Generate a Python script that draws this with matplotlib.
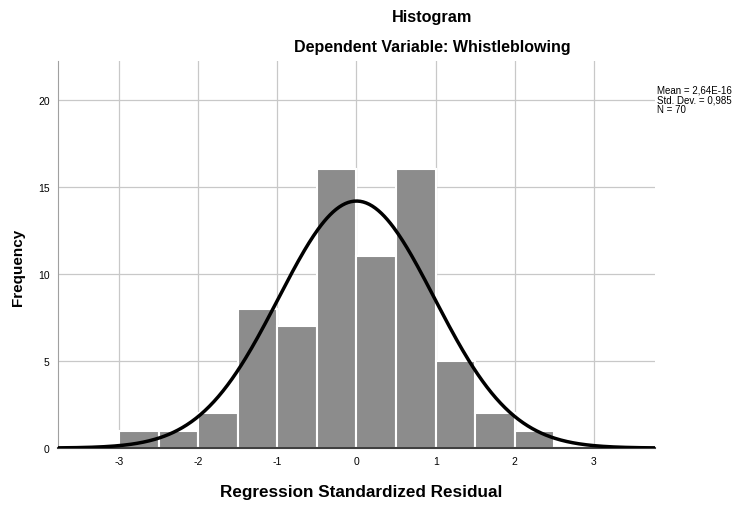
import matplotlib
matplotlib.use('Agg')
import matplotlib.pyplot as plt
import numpy as np

plt.rcParams['font.family'] = ['Liberation Sans', 'DejaVu Sans']
plt.rcParams['axes.unicode_minus'] = False

# histogram bins (left edges) and counts
bin_edges = [-3.0, -2.5, -2.0, -1.5, -1.0, -0.5, 0.0, 0.5, 1.0, 1.5, 2.0, 2.5]
counts = [1, 1, 2, 8, 7, 16, 11, 16, 5, 2, 1]
mean_val = 2.64e-16
std_val = 0.985
n_obs = 70
x_ticks = [-3, -2, -1, 0, 1, 2, 3]
y_ticks = [0, 5, 10, 15, 20]

fig = plt.figure(figsize=(7.52, 5.06), dpi=100)
ax = fig.add_axes([0.0771, 0.1126, 0.7939, 0.7644])

widths = np.diff(bin_edges)
ax.bar(bin_edges[:-1], counts, width=widths, align='edge',
       color='#8c8c8c', edgecolor='white', linewidth=1.5, zorder=2)

# normal curve scaled to the histogram
xs = np.linspace(-3.8, 3.8, 400)
bw = 0.5
ys = n_obs * bw / (std_val * np.sqrt(2 * np.pi)) * np.exp(-0.5 * ((xs - mean_val) / std_val) ** 2)
ax.plot(xs, ys, color='black', linewidth=2.5, zorder=3)

ax.set_xlim(-3.77, 3.77)
ax.set_ylim(0, 22.2)
ax.set_xticks(x_ticks)
ax.set_yticks(y_ticks)
ax.tick_params(length=0, labelsize=7.5, pad=6)
ax.grid(True, color='#c8c8c8', linewidth=0.9, zorder=0)
ax.set_axisbelow(True)

for s in ['top', 'right']:
    ax.spines[s].set_visible(False)
ax.spines['left'].set_color('#a0a0a0')
ax.spines['bottom'].set_color('#404040')
ax.spines['bottom'].set_linewidth(1.5)

ax.set_ylabel('Frequency', fontsize=11, fontweight='bold')
ax.yaxis.set_label_coords(-0.056, 0.47)
fig.text(0.48, 0.026, 'Regression Standardized Residual', ha='center', va='center',
         fontsize=12.3, fontweight='bold')

fig.text(0.575, 0.966, 'Histogram', ha='center', va='center', fontsize=11.7, fontweight='bold')
fig.text(0.575, 0.907, 'Dependent Variable: Whistleblowing', ha='center', va='center',
         fontsize=11.5, fontweight='bold')

fig.text(0.874, 0.832, 'Mean = 2,64E-16\nStd. Dev. = 0,985\nN = 70',
         ha='left', va='top', fontsize=7, linespacing=1.0)

fig.savefig('out.png', dpi=100)
